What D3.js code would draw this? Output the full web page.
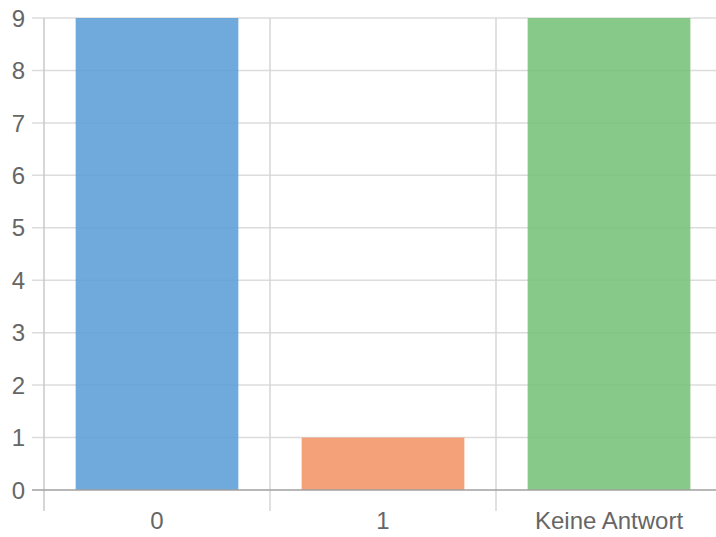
<!DOCTYPE html>
<html><head><meta charset="utf-8">
<script src="https://cdn.jsdelivr.net/npm/d3@7"></script>
<style>html,body{margin:0;padding:0;background:#fff;overflow:hidden}</style>
</head><body>
<svg id="c" width="716" height="537"></svg>
<script>
const categories = ["0", "1", "Keine Antwort"];
const values = [9, 1, 9];
const colors = ["rgba(92,158,216,0.88)", "rgba(243,148,102,0.88)", "rgba(117,193,121,0.88)"];
const yTicks = [0,1,2,3,4,5,6,7,8,9];

(function () {
const svg = d3.select("#c");
const pl = 44, pr = 722, pt = 18, pb = 490;
const x = d3.scaleBand().domain(categories).range([pl, pr]).paddingInner(0).paddingOuter(0);
const y = d3.scaleLinear().domain([0, 9]).range([pb, pt]);
const font = "'Liberation Sans', Arial, sans-serif";

// horizontal gridlines
svg.append("g").selectAll("line").data(yTicks.filter(d => d !== 0)).join("line")
  .attr("x1", pl - 12).attr("x2", pr)
  .attr("y1", d => y(d)).attr("y2", d => y(d))
  .attr("stroke", "#dcdcdc").attr("stroke-width", 1.5);

// vertical gridlines
const vlines = categories.map(c => x(c));
svg.append("g").selectAll("line").data(vlines).join("line")
  .attr("x1", d => d).attr("x2", d => d)
  .attr("y1", pt).attr("y2", pb + 21)
  .attr("stroke", d => d === pl ? "#c8c8c8" : "#d6d6d6").attr("stroke-width", 1.5);

// bars
const bw = x.bandwidth() * 0.72;
svg.append("g").selectAll("rect").data(values).join("rect")
  .attr("x", (d, i) => x(categories[i]) + (x.bandwidth() - bw) / 2)
  .attr("width", bw)
  .attr("y", d => y(d))
  .attr("height", d => y(0) - y(d))
  .attr("fill", (d, i) => colors[i]);

// zero line
svg.append("line").attr("x1", pl - 12).attr("x2", pr)
  .attr("y1", y(0)).attr("y2", y(0))
  .attr("stroke", "#a0a0a0").attr("stroke-width", 1.5);

// y labels
svg.append("g").selectAll("text").data(yTicks).join("text")
  .attr("x", 25).attr("y", d => y(d)).attr("dy", "0.36em")
  .attr("text-anchor", "end")
  .attr("font-family", font).attr("font-size", 24).attr("fill", "#666")
  .text(d => d);

// x labels
svg.append("g").selectAll("text").data(categories).join("text")
  .attr("x", d => x(d) + x.bandwidth() / 2).attr("y", 529)
  .attr("text-anchor", "middle")
  .attr("font-family", font).attr("font-size", 24).attr("fill", "#666")
  .text(d => d);
})();
</script>
</body></html>
